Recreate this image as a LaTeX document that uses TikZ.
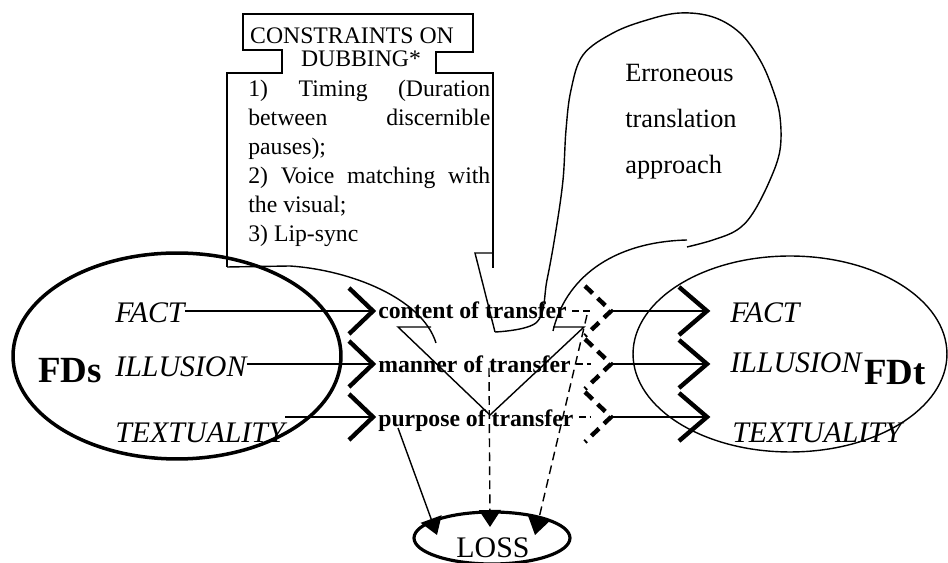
\documentclass[tikz,border=0pt]{standalone}
\usepackage{fontspec}
\setmainfont{Liberation Serif}
\usetikzlibrary{arrows.meta}

\tikzset{
  thinline/.style={line width=0.8pt},
  rowline/.style={line width=1.3pt},
  chevron/.style={line width=2.5pt},
  dchevron/.style={line width=2.5pt, dash pattern=on 6pt off 4pt},
  dline/.style={line width=0.8pt, dash pattern=on 5pt off 3pt},
  italbl/.style={inner sep=0pt, font=\fontsize{17}{20}\selectfont\itshape},
  midlbl/.style={inner sep=0pt, font=\fontsize{13.5}{16}\selectfont\bfseries},
  biglbl/.style={inner sep=0pt, font=\fontsize{21}{24}\selectfont\bfseries},
  boxtxt/.style={inner sep=0pt, font=\fontsize{13.5}{16.4}\selectfont},
  cloudtxt/.style={inner sep=0pt, font=\fontsize{15}{18}\selectfont},
  losstip/.style={-{Triangle[width=0.44cm,length=0.34cm]}},
}

\begin{document}
\begin{tikzpicture}[x=0.02cm, y=-0.02cm]
\useasboundingbox (0,0) rectangle (948,563);

% source and target
\draw[line width=2pt] (177,356) ellipse [x radius=3.28cm, y radius=2.06cm];
\draw[thinline] (790,354) ellipse [x radius=3.14cm, y radius=1.96cm];
\draw[line width=1.8pt] (492,538) ellipse [x radius=1.56cm, y radius=0.52cm];

% constraints box
\draw[thinline] (227,267) -- (227,73) -- (282,73) -- (282,50) -- (243,50) -- (243,14)
  -- (473,14) -- (473,52) -- (436,52) -- (436,73) -- (493,73) -- (493,268);
\draw[thinline] (493,253) -- (475,253) -- (495,332);
\draw[thinline] (227,267) -- (290,266) .. controls (350,270) and (422,298) .. (436,343);
\draw[thinline] (431,327) -- (398,327) -- (490,415) -- (584,327) -- (553,327);
\draw[thinline] (553,331) .. controls (565,280) and (610,242) .. (687,240);

% cloud
\draw[thinline] plot[smooth, tension=0.6] coordinates {(495,332) (537,322) (547,280)
  (556,230) (563,180) (566,130) (571,90) (583,55) (613,33) (647,20) (680,13) (713,17)
  (740,33) (760,60) (773,90) (780,117) (780,150) (770,180) (753,213) (737,230)
  (713,240) (687,247)};

\node[boxtxt, anchor=base] (hdr1) at (352,44) {CONSTRAINTS ON};
\node[boxtxt, anchor=base] (hdr2) at (361,67) {DUBBING*};
\node[boxtxt, anchor=base west, text width=4.84cm, align=justify] (rules) at (248,97)
  {1) Timing (Duration\linebreak between discernible\linebreak pauses);\\
   2) Voice matching with\linebreak the visual;\\ 3) Lip-sync};

\node[cloudtxt, anchor=base west] (err) at (625,82) {Erroneous};
\node[cloudtxt, anchor=base west] (trans) at (625,128) {translation};
\node[cloudtxt, anchor=base west] (appr) at (625,174) {approach};

\node[biglbl, anchor=base west] (fds) at (38,383) {FDs};
\node[biglbl, anchor=base west] (fdt) at (864,385) {FDt};

\node[italbl, anchor=base west] (fact-s) at (115,323) {FACT};
\node[italbl, anchor=base west] (il-s) at (115,377) {ILLUSION};
\node[italbl, anchor=base west] (tx-s) at (115,443) {TEXTUALITY};
\node[italbl, anchor=base west] (fact-t) at (730,323) {FACT};
\node[italbl, anchor=base west] (il-t) at (730,373) {ILLUSION};
\node[italbl, anchor=base west] (tx-t) at (732,443) {TEXTUALITY};

\node[midlbl, anchor=base west] (content) at (378,319) {content of transfer};
\node[midlbl, anchor=base west] (manner) at (378,373) {manner of transfer};
\node[midlbl, anchor=base west] (purpose) at (378,427) {purpose of transfer};

\node[font=\fontsize{17}{20}\selectfont, inner sep=0pt, anchor=base] (loss) at (493,558) {LOSS};

% rows
\foreach \n/\y in {1/311, 2/364, 3/417} {
  \coordinate (r\n) at (0,\y);
  \coordinate (e\n) at (591,\y);
  \coordinate (d\n) at (609,\y);
  \coordinate (s\n) at (707,\y);
  \draw[chevron] (349,\y-23) -- (373,\y) -- (349,\y+23);
  \draw[dchevron] (585,\y-25) -- (611,\y) -- (585,\y+25);
  \draw[chevron] (679,\y-24) -- (707,\y) -- (679,\y+24);
}

\foreach \n/\a/\b in {1/fact-s/content, 2/il-s/manner, 3/tx-s/purpose} {
  \draw[rowline] (\a.east |- r\n) -- (373,0 |- r\n);
  \draw[rowline, dash pattern=on 4pt off 2pt] ([xshift=3pt]\b.east |- r\n) -- (e\n);
  \draw[rowline] (d\n) -- (s\n);
}

% lines to loss
\coordinate (pL) at (398,428);
\coordinate (pM) at (489,368);
\coordinate (pR) at (587,315);
\coordinate (tL) at (437,535);
\coordinate (tM) at (490,527);
\coordinate (tR) at (535,535);
\draw[thinline, losstip] (pL) -- (tL);
\draw[dline, losstip] (pM) -- (tM);
\draw[dline, losstip] (pR) -- (tR);

\end{tikzpicture}
\end{document}
